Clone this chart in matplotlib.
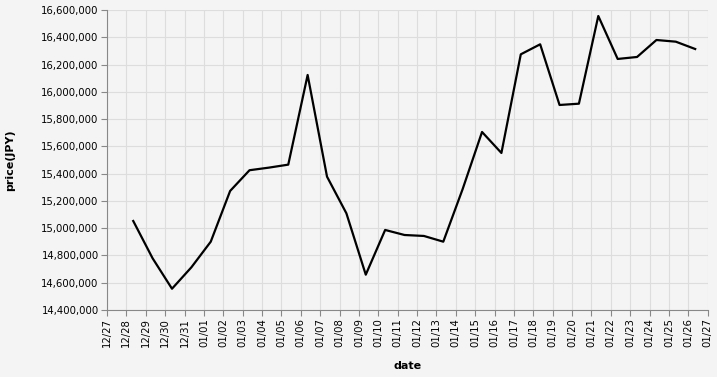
import matplotlib
matplotlib.use("Agg")
import matplotlib.pyplot as plt
import matplotlib.dates as mdates
import matplotlib.ticker as mticker
import pandas as pd

dates = pd.date_range("2023-12-28 08:30", periods=30, freq="D")
prices = [15052700, 14779000, 14556000, 14713000, 14901000, 15273000, 15425000,
          15444000, 15466000, 16123500, 15378000, 15109000, 14659000, 14987000,
          14950000, 14943000, 14901000, 15287000, 15705500, 15551500, 16275000,
          16348500, 15903500, 15913000, 16556000, 16241000, 16255500, 16380000,
          16367700, 16314000]

bg = "#f4f4f4"
fig = plt.figure(figsize=(7.17, 3.77), dpi=100, facecolor=bg)
ax = fig.add_axes([107/717, 1 - 310/377, (707.7 - 107)/717, 300/377])
ax.set_facecolor(bg)

ax.plot(dates, prices, color="black", lw=1.6, zorder=3)

ax.set_xlim(pd.Timestamp("2023-12-27"), pd.Timestamp("2024-01-27"))
ax.set_ylim(14400000, 16600000)
ax.xaxis.set_major_locator(mdates.DayLocator())
ax.xaxis.set_major_formatter(mdates.DateFormatter("%m/%d"))
ax.yaxis.set_major_locator(mticker.MultipleLocator(200000))
ax.yaxis.set_major_formatter(mticker.StrMethodFormatter("{x:,.0f}"))

ax.grid(True, color="#dddddd", lw=0.8, zorder=0)
for s in ["top", "right"]:
    ax.spines[s].set_visible(False)
for s in ["left", "bottom"]:
    ax.spines[s].set_color("#888888")
    ax.spines[s].set_linewidth(0.8)
ax.tick_params(axis="both", colors="#888888", length=4, width=0.8, labelsize=7.3,
               labelcolor="black", pad=2)
plt.setp(ax.get_xticklabels(), rotation=90, ha="center", va="top")

ax.set_xlabel("date", fontsize=8, fontweight="bold", labelpad=10)
ax.set_ylabel("price(JPY)", fontsize=8, fontweight="bold", labelpad=18.5)

fig.savefig("out.png", dpi=100, facecolor=bg)
